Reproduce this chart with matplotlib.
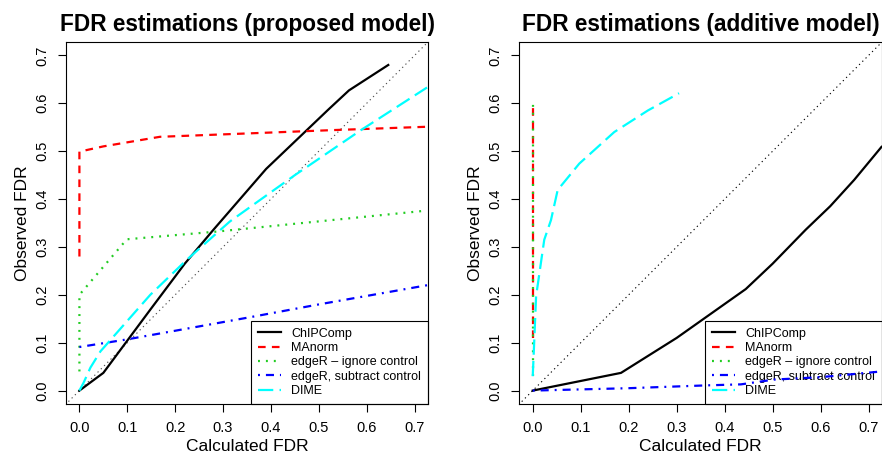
import matplotlib
matplotlib.use('Agg')
import matplotlib.pyplot as plt

plt.rcParams['font.family'] = ['Liberation Sans', 'DejaVu Sans']
plt.rcParams['lines.scale_dashes'] = False

# proposed model
p_chip_x = [0, 0.05, 0.148, 0.22, 0.28, 0.39, 0.52, 0.563, 0.645]
p_chip_y = [0, 0.037, 0.169, 0.265, 0.336, 0.463, 0.587, 0.627, 0.68]
p_manorm_x = [0, 0, 0.05, 0.168, 0.35, 0.529, 0.726]
p_manorm_y = [0.28, 0.499, 0.51, 0.53, 0.537, 0.544, 0.551]
p_ignore_x = [0, 0, 0.099, 0.286, 0.726]
p_ignore_y = [0.04, 0.2, 0.316, 0.332, 0.376]
p_subtract_x = [0, 0.1, 0.2, 0.355, 0.5, 0.726]
p_subtract_y = [0.091, 0.107, 0.125, 0.153, 0.18, 0.22]
p_dime_x = [0, 0.009, 0.023, 0.044, 0.148, 0.224, 0.314, 0.45, 0.588, 0.726]
p_dime_y = [0, 0.017, 0.048, 0.082, 0.2, 0.273, 0.353, 0.45, 0.544, 0.633]

# additive model
a_chip_x = [0, 0.184, 0.3, 0.444, 0.5, 0.569, 0.62, 0.67, 0.727]
a_chip_y = [0, 0.037, 0.11, 0.212, 0.265, 0.336, 0.385, 0.44, 0.509]
a_manorm_x = [0, 0]
a_manorm_y = [0.11, 0.6]
a_ignore_x = [0.001, 0.001]
a_ignore_y = [0.03, 0.606]
a_subtract_x = [0, 0.2, 0.365, 0.434, 0.503, 0.6, 0.727]
a_subtract_y = [0, 0.005, 0.011, 0.013, 0.023, 0.028, 0.04]
a_dime_x = [0, 0.003, 0.007, 0.024, 0.038, 0.052, 0.097, 0.17, 0.24, 0.305]
a_dime_y = [0.03, 0.1, 0.197, 0.315, 0.356, 0.419, 0.474, 0.54, 0.585, 0.621]

labels = ['ChIPComp', 'MAnorm', 'edgeR \u2013 ignore control',
          'edgeR, subtract control', 'DIME']
ticks = [0.0, 0.1, 0.2, 0.3, 0.4, 0.5, 0.6, 0.7]

styles = [
    dict(color='black', ls='-'),
    dict(color='red', ls=(0, (5.5, 4.5))),
    dict(color='#22cc22', ls=(0, (1.4, 4.3))),
    dict(color='blue', ls=(0, (1.4, 4.3, 5.8, 4.3))),
    dict(color='cyan', ls=(0, (11, 4.5))),
]


def panel(ax, series, title, diag_col):
    ax.plot([-0.05, 0.8], [-0.05, 0.8], color=diag_col, lw=0.8,
            ls=(0, (0.9, 2.4)), zorder=1)
    for (x, y), st, lab in zip(series, styles, labels):
        ax.plot(x, y, lw=1.6, label=lab, zorder=3, **st)
    ax.set_xlim(-0.028, 0.728)
    ax.set_ylim(-0.028, 0.728)
    ax.set_xticks(ticks)
    ax.set_yticks(ticks)
    ax.set_xticklabels(['%.1f' % t for t in ticks])
    ax.set_yticklabels(['%.1f' % t for t in ticks], rotation=90, va='center')
    ax.tick_params(direction='out', length=6, width=0.8, labelsize=10.5, pad=6)
    for s in ax.spines.values():
        s.set_linewidth(0.8)
    ax.set_title(title, fontsize=16.3, fontweight='bold', pad=8)
    ax.set_xlabel('Calculated FDR', fontsize=12.5, labelpad=3)
    ax.set_ylabel('Observed FDR', fontsize=12.5, labelpad=4)
    leg = ax.legend(loc='lower right', fontsize=9, borderaxespad=0,
                    fancybox=False, edgecolor='black', framealpha=1,
                    handlelength=1.9, handletextpad=0.8, labelspacing=0.19,
                    borderpad=0.55)
    leg.get_frame().set_linewidth(0.8)
    leg.set_zorder(2)


fig = plt.figure(figsize=(8.82, 4.57), dpi=100)
ax1 = fig.add_axes([66 / 882, 53 / 457, 362 / 882, 362 / 457])
ax2 = fig.add_axes([519.3 / 882, 53 / 457, 362.7 / 882, 362 / 457])

panel(ax1, [(p_chip_x, p_chip_y), (p_manorm_x, p_manorm_y),
            (p_ignore_x, p_ignore_y), (p_subtract_x, p_subtract_y),
            (p_dime_x, p_dime_y)],
      'FDR estimations (proposed model)', '0.3')
panel(ax2, [(a_chip_x, a_chip_y), (a_manorm_x, a_manorm_y),
            (a_ignore_x, a_ignore_y), (a_subtract_x, a_subtract_y),
            (a_dime_x, a_dime_y)],
      'FDR estimations (additive model)', 'black')

fig.savefig('out.png', dpi=100)
